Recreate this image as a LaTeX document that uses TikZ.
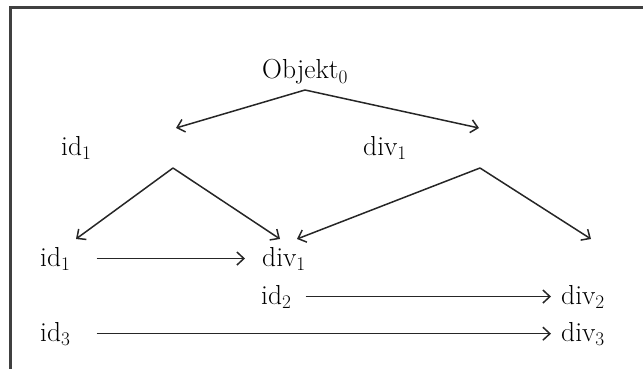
\documentclass[tikz,border=0pt]{standalone}
\usetikzlibrary{arrows.meta}

\begin{document}
\begin{tikzpicture}[x=1pt, y=-1pt, >={Straight Barb[length=7pt,width=13pt]},
  lbl/.style={anchor=base west, inner sep=0pt, font=\fontsize{27.5}{32}\selectfont},
  conn/.style={->, line width=1.5pt, black!85}]
  \useasboundingbox (0,0) rectangle (643,369);
  % Frame (top and left edge only)
  \draw[line width=2.2pt, black!75] (643,7.5) -- (10.5,7.5) -- (10.5,369);

  % Labels
  \node[lbl] (obj)  at (262,79)  {Objekt\textsubscript{0}};
  \node[lbl] (idA)  at (61,155)  {id\textsubscript{1}};
  \node[lbl] (divA) at (363,155) {div\textsubscript{1}};
  \node[lbl] (idB)  at (40,266)  {id\textsubscript{1}};
  \node[lbl] (divB) at (262,266) {div\textsubscript{1}};
  \node[lbl] (idC)  at (261,304) {id\textsubscript{2}};
  \node[lbl] (divC) at (561,304) {div\textsubscript{2}};
  \node[lbl] (idD)  at (40,341)  {id\textsubscript{3}};
  \node[lbl] (divD) at (561,341) {div\textsubscript{3}};

  % Branch points and arrow ends
  \coordinate (top)   at (305,90);
  \coordinate (tipL)  at (176,128);
  \coordinate (tipR)  at (479,128);
  \coordinate (peakL) at (173,168);
  \coordinate (peakR) at (480,168);
  \coordinate (endA)  at (76,239);
  \coordinate (endB)  at (280,239);
  \coordinate (endC)  at (297,239);
  \coordinate (endD)  at (591,239);

  % Upper tree
  \draw[conn] (top) -- (tipL);
  \draw[conn] (top) -- (tipR);
  \draw[conn] (peakL) -- (endA);
  \draw[conn] (peakL) -- (endB);
  \draw[conn] (peakR) -- (endC);
  \draw[conn] (peakR) -- (endD);

  % Rows
  \draw[conn, shorten <=26pt, shorten >=17pt] (idB) -- (divB);
  \draw[conn, shorten <=14pt, shorten >=10pt] (idC) -- (divC);
  \draw[conn, shorten <=26pt, shorten >=10pt] (idD) -- (divD);
\end{tikzpicture}
\end{document}
